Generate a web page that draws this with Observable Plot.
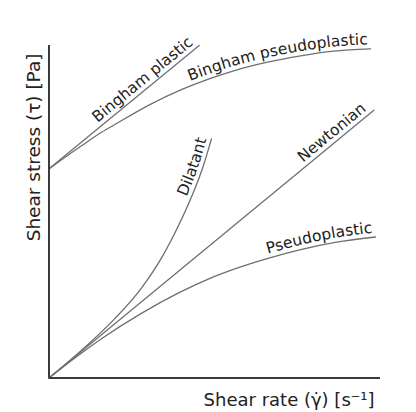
<!DOCTYPE html>
<html>
<head>
<meta charset="utf-8">
<script src="https://cdn.jsdelivr.net/npm/d3@7"></script>
<script src="https://cdn.jsdelivr.net/npm/@observablehq/plot@0.6"></script>
<style>
  html, body { margin: 0; padding: 0; background: #fff; }
  svg { display: block; }
</style>
</head>
<body>
<div id="chart"></div>
<script>
// ---- data (arbitrary units 0..10 on both axes) ----
const xLabel = "Shear rate (\u03B3\u0307) [s\u207B\u00B9]";
const yLabel = "Shear stress (\u03C4) [Pa]";

const seriesNames = ["Bingham plastic", "Bingham pseudoplastic", "Dilatant", "Newtonian", "Pseudoplastic"];

const binghamPlasticX = [0, 4.53];
const binghamPlasticY = [6.29, 10.0];

const binghamPseudoX = [0, 0.99, 1.49, 2.00, 3.00, 4.01, 4.81, 5.57, 6.59, 7.59, 8.58, 9.70];
const binghamPseudoY = [6.29, 6.99, 7.33, 7.63, 8.20, 8.68, 8.99, 9.24, 9.50, 9.69, 9.83, 9.90];

const dilatantX = [0, 1.0, 2.0, 2.8, 3.4, 3.9, 4.3, 4.65, 4.90];
const dilatantY = [0, 0.85, 1.80, 2.72, 3.62, 4.57, 5.45, 6.36, 7.19];

const newtonianX = [0, 9.80];
const newtonianY = [0, 8.05];

const pseudoX = [0, 0.8, 1.55, 2.76, 3.91, 4.77, 5.78, 6.58, 7.59, 8.59, 9.85];
const pseudoY = [0, 0.62, 1.16, 1.93, 2.56, 2.96, 3.34, 3.59, 3.86, 4.07, 4.24];

const labelEndGap = [3, 2, 2, 5, 2]; // px gap between label end and curve end

// ---- build tables ----
const toRows = (xs, ys) => xs.map((x, i) => ({x, y: ys[i]}));
const series = [
  {rows: toRows(binghamPlasticX, binghamPlasticY), curve: "linear"},
  {rows: toRows(binghamPseudoX, binghamPseudoY), curve: "monotone-x"},
  {rows: toRows(dilatantX, dilatantY), curve: "monotone-x"},
  {rows: toRows(newtonianX, newtonianY), curve: "linear"},
  {rows: toRows(pseudoX, pseudoY), curve: "monotone-x"}
];

const font = "DejaVu Sans";
const lineColor = "#6f6f6f";

const chart = Plot.plot({
  width: 416,
  height: 412,
  marginLeft: 48.5,
  marginRight: 36,
  marginTop: 45,
  marginBottom: 34.5,
  x: {domain: [0, 10], axis: null},
  y: {domain: [0, 10], axis: null},
  style: {fontFamily: font, background: "#fff"},
  marks: [
    ...series.map(s => Plot.line(s.rows, {x: "x", y: "y", curve: s.curve, stroke: lineColor, strokeWidth: 1.3})),
    Plot.ruleX([0], {y1: 0, y2: 10, stroke: "#3a3a3a", strokeWidth: 2}),
    Plot.ruleY([0], {x1: 0, x2: 10, stroke: "#3a3a3a", strokeWidth: 2}),
    Plot.text([xLabel], {text: d => d, frameAnchor: "bottom-right", textAnchor: "end", lineAnchor: "bottom",
      dx: -6, dy: 27.5, fontSize: 18, fill: "#222", fontFamily: font}),
    Plot.text([yLabel], {text: d => d, frameAnchor: "top-left", rotate: -90, textAnchor: "end", lineAnchor: "bottom",
      dx: -9, dy: 8, fontSize: 18.5, fill: "#222", fontFamily: font})
  ]
});

document.getElementById("chart").appendChild(chart);

// ---- curve labels that follow the library-drawn paths ----
const ns = "http://www.w3.org/2000/svg";
const paths = chart.querySelectorAll('g[aria-label="line"] path');
const labelGroup = document.createElementNS(ns, "g");
labelGroup.setAttribute("font-family", font);
labelGroup.setAttribute("font-size", "15.5");
labelGroup.setAttribute("fill", "#222");
paths.forEach((p, i) => {
  const id = "curve-" + i;
  p.setAttribute("id", id);
  const len = p.getTotalLength();
  const t = document.createElementNS(ns, "text");
  t.setAttribute("dy", "-4");
  const tp = document.createElementNS(ns, "textPath");
  tp.setAttribute("href", "#" + id);
  tp.setAttribute("startOffset", String(len - labelEndGap[i]));
  tp.setAttribute("text-anchor", "end");
  tp.textContent = seriesNames[i];
  t.appendChild(tp);
  labelGroup.appendChild(t);
});
chart.appendChild(labelGroup);
</script>
</body>
</html>
